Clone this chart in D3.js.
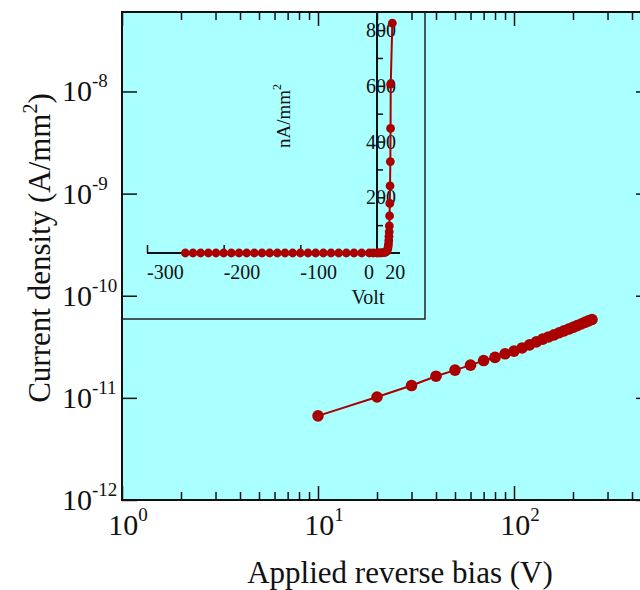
<!DOCTYPE html>
<html>
<head>
<meta charset="utf-8">
<script src="https://cdn.jsdelivr.net/npm/d3@7"></script>
<style>
  body { margin: 0; background: #fff; }
  svg text { font-family: "Liberation Serif", "Times New Roman", serif; fill: #111; }
</style>
</head>
<body>
<div id="chart"></div>
<script>
// main plot: reverse bias (V) vs current density (A/mm^2)
var biasV = [10, 20, 30, 40, 50, 60, 70, 80, 90, 100, 110, 120, 130,
             140, 150, 160, 170, 180, 190, 200, 210, 220, 230, 240, 250];
var currentJ = [6.67e-12, 1.02e-11, 1.32e-11, 1.63e-11, 1.87e-11, 2.09e-11, 2.32e-11,
                2.49e-11, 2.70e-11, 2.87e-11, 3.08e-11, 3.30e-11, 3.53e-11, 3.76e-11,
                3.95e-11, 4.14e-11, 4.34e-11, 4.53e-11, 4.72e-11, 4.91e-11, 5.10e-11,
                5.29e-11, 5.48e-11, 5.67e-11, 5.85e-11];
var xDecades = [0, 1, 2];
var yDecades = [-12, -11, -10, -9, -8];

// inset: volt vs nA/mm^2
var insetV = [-250, -240, -230, -220, -210, -200, -190, -180, -170, -160, -150, -140,
              -130, -120, -110, -100, -90, -80, -70, -60, -50, -40, -30, -20, -10, -5,
              0, 2, 4, 6, 8, 10, 11, 12, 13, 14, 14.5, 15, 15.3, 15.6, 15.9, 16.1,
              16.4, 16.7, 17.0, 17.4, 17.7, 17.9, 20];
var insetI = [0, 0, 0, 0, 0, 0, 0, 0, 0, 0, 0, 0,
              0, 0, 0, 0, 0, 0, 0, 0, 0, 0, 0, 0, 0, 0,
              0, 0.1, 0.3, 0.6, 1, 2, 3, 5, 8, 14, 22, 32, 45, 60, 76, 97,
              133, 178, 241, 328, 447, 606, 825];
var insetXTicks = [-300, -200, -100];
var insetXMinor = [-250, -150, -50];
var insetYLabels = [200, 400, 600, 800];
var insetYMinor = [100, 300, 500, 700];

var W = 640, H = 590;
var red = "#aa0000";

var svg = d3.select("#chart").append("svg")
    .attr("width", W).attr("height", H);

var x = d3.scaleLog().domain([1, 500]).range([122, 651]);
var y = d3.scaleLog().domain([1e-12, 6e-8]).range([500, 12]);

svg.append("rect")
    .attr("x", x.range()[0]).attr("y", y.range()[1])
    .attr("width", x.range()[1] - x.range()[0])
    .attr("height", y.range()[0] - y.range()[1])
    .attr("fill", "#aaffff")
    .attr("stroke", "#111").attr("stroke-width", 2);

var minors = [];
[1, 10, 100].forEach(function(d) {
  for (var k = 2; k <= 9; k++) if (d * k <= 500) minors.push(d * k);
});
var majors = xDecades.map(function(p) { return Math.pow(10, p); });

function styleAxis(g) {
  g.select(".domain").remove();
  g.selectAll("line").attr("stroke", "#111").attr("stroke-width", 1.5);
}

svg.append("g").attr("transform", "translate(0,500)")
    .call(d3.axisBottom(x).tickValues(majors).tickSize(-14).tickFormat(""))
    .call(styleAxis);
svg.append("g").attr("transform", "translate(0,500)")
    .call(d3.axisBottom(x).tickValues(minors).tickSize(-8).tickFormat(""))
    .call(styleAxis);
svg.append("g").attr("transform", "translate(0,12)")
    .call(d3.axisTop(x).tickValues(majors).tickSize(-14).tickFormat(""))
    .call(styleAxis);
svg.append("g").attr("transform", "translate(0,12)")
    .call(d3.axisTop(x).tickValues(minors).tickSize(-8).tickFormat(""))
    .call(styleAxis);

var yMaj = yDecades.map(function(p) { return Math.pow(10, p); });
svg.append("g").attr("transform", "translate(122,0)")
    .call(d3.axisLeft(y).tickValues(yMaj).tickSize(-15).tickFormat(""))
    .call(styleAxis);
svg.append("g").attr("transform", "translate(651,0)")
    .call(d3.axisRight(y).tickValues(yMaj).tickSize(-15).tickFormat(""))
    .call(styleAxis);

// tick labels 10^n
xDecades.forEach(function(p) {
  var t = svg.append("text")
      .attr("x", x(Math.pow(10, p)) + 6).attr("y", 535)
      .attr("text-anchor", "middle").attr("font-size", 30);
  t.append("tspan").text("10");
  t.append("tspan").attr("font-size", 19).attr("dy", -14).text(p);
});
yDecades.forEach(function(p) {
  var t = svg.append("text")
      .attr("x", 62).attr("y", y(Math.pow(10, p)) + 10)
      .attr("font-size", 30);
  t.append("tspan").text("10");
  t.append("tspan").attr("font-size", 19).attr("dy", -14).text(p);
});

// axis titles
svg.append("text").attr("x", 400).attr("y", 583)
    .attr("text-anchor", "middle").attr("font-size", 31)
    .text("Applied reverse bias (V)");
var yt = svg.append("text")
    .attr("transform", "translate(50,248) rotate(-90)")
    .attr("text-anchor", "middle").attr("font-size", 31);
yt.append("tspan").text("Current density (A/mm");
yt.append("tspan").attr("font-size", 20).attr("dy", -13).text("2");
yt.append("tspan").attr("dy", 13).text(")");

// inset frame
svg.append("path")
    .attr("d", "M425,12V319H122")
    .attr("fill", "none").attr("stroke", "#222").attr("stroke-width", 1.5);

// inset axes
var ix = d3.scaleLinear().domain([-300, 30]).range([147, 400]);
var iy = d3.scaleLinear().domain([0, 865]).range([253, 12]);

svg.append("line")
    .attr("x1", ix(-300)).attr("x2", ix(30))
    .attr("y1", iy(0)).attr("y2", iy(0))
    .attr("stroke", "#111").attr("stroke-width", 2);
svg.append("line")
    .attr("x1", ix(0)).attr("x2", ix(0))
    .attr("y1", iy(0)).attr("y2", iy(865))
    .attr("stroke", "#111").attr("stroke-width", 2);

svg.append("g").attr("transform", "translate(0," + iy(0) + ")")
    .call(d3.axisTop(ix).tickValues(insetXTicks).tickSize(8).tickFormat(""))
    .call(styleAxis);
svg.append("g").attr("transform", "translate(0," + iy(0) + ")")
    .call(d3.axisTop(ix).tickValues(insetXMinor).tickSize(4).tickFormat(""))
    .call(styleAxis);
svg.append("g").attr("transform", "translate(" + ix(0) + ",0)")
    .call(d3.axisRight(iy).tickValues(insetYMinor).tickSize(6).tickFormat(""))
    .call(styleAxis);
svg.append("g").attr("transform", "translate(" + ix(0) + ",0)")
    .call(d3.axisRight(iy).tickValues(insetYLabels).tickSize(8).tickFormat(""))
    .call(styleAxis);

svg.selectAll(".ixlab").data(insetXTicks).enter().append("text")
    .attr("x", function(d) { return ix(d); }).attr("y", 279)
    .attr("font-size", 20).text(function(d) { return d; });
svg.append("text").attr("x", ix(0) - 3).attr("y", 279)
    .attr("text-anchor", "end").attr("font-size", 20).text("0");
svg.append("text").attr("x", ix(20) + 3).attr("y", 279)
    .attr("text-anchor", "middle").attr("font-size", 20).text("20");
svg.selectAll(".iylab").data(insetYLabels).enter().append("text")
    .attr("x", ix(0) + 4).attr("y", function(d) { return iy(d); })
    .attr("dy", "0.35em").attr("text-anchor", "middle")
    .attr("font-size", 20).text(function(d) { return d; });

svg.append("text").attr("x", 368).attr("y", 304)
    .attr("text-anchor", "middle").attr("font-size", 20).text("Volt");
var il = svg.append("text")
    .attr("transform", "translate(290,116) rotate(-90)")
    .attr("text-anchor", "middle").attr("font-size", 19);
il.append("tspan").text("nA/mm");
il.append("tspan").attr("font-size", 12).attr("dy", -9).text("2");

// main data
var mainPts = biasV.map(function(v, i) { return [v, currentJ[i]]; });
svg.append("path").datum(mainPts)
    .attr("fill", "none").attr("stroke", red).attr("stroke-width", 2)
    .attr("d", d3.line().x(function(d) { return x(d[0]); }).y(function(d) { return y(d[1]); }));
svg.selectAll(".mdot").data(mainPts).enter().append("circle")
    .attr("cx", function(d) { return x(d[0]); })
    .attr("cy", function(d) { return y(d[1]); })
    .attr("r", 5.8).attr("fill", red);

// inset data
var insetPts = insetV.map(function(v, i) { return [v, insetI[i]]; });
svg.append("path").datum(insetPts)
    .attr("fill", "none").attr("stroke", red).attr("stroke-width", 2)
    .attr("d", d3.line().x(function(d) { return ix(d[0]); }).y(function(d) { return iy(d[1]); }));
svg.selectAll(".idot").data(insetPts).enter().append("circle")
    .attr("cx", function(d) { return ix(d[0]); })
    .attr("cy", function(d) { return iy(d[1]); })
    .attr("r", 4.4).attr("fill", red);
</script>
</body>
</html>
